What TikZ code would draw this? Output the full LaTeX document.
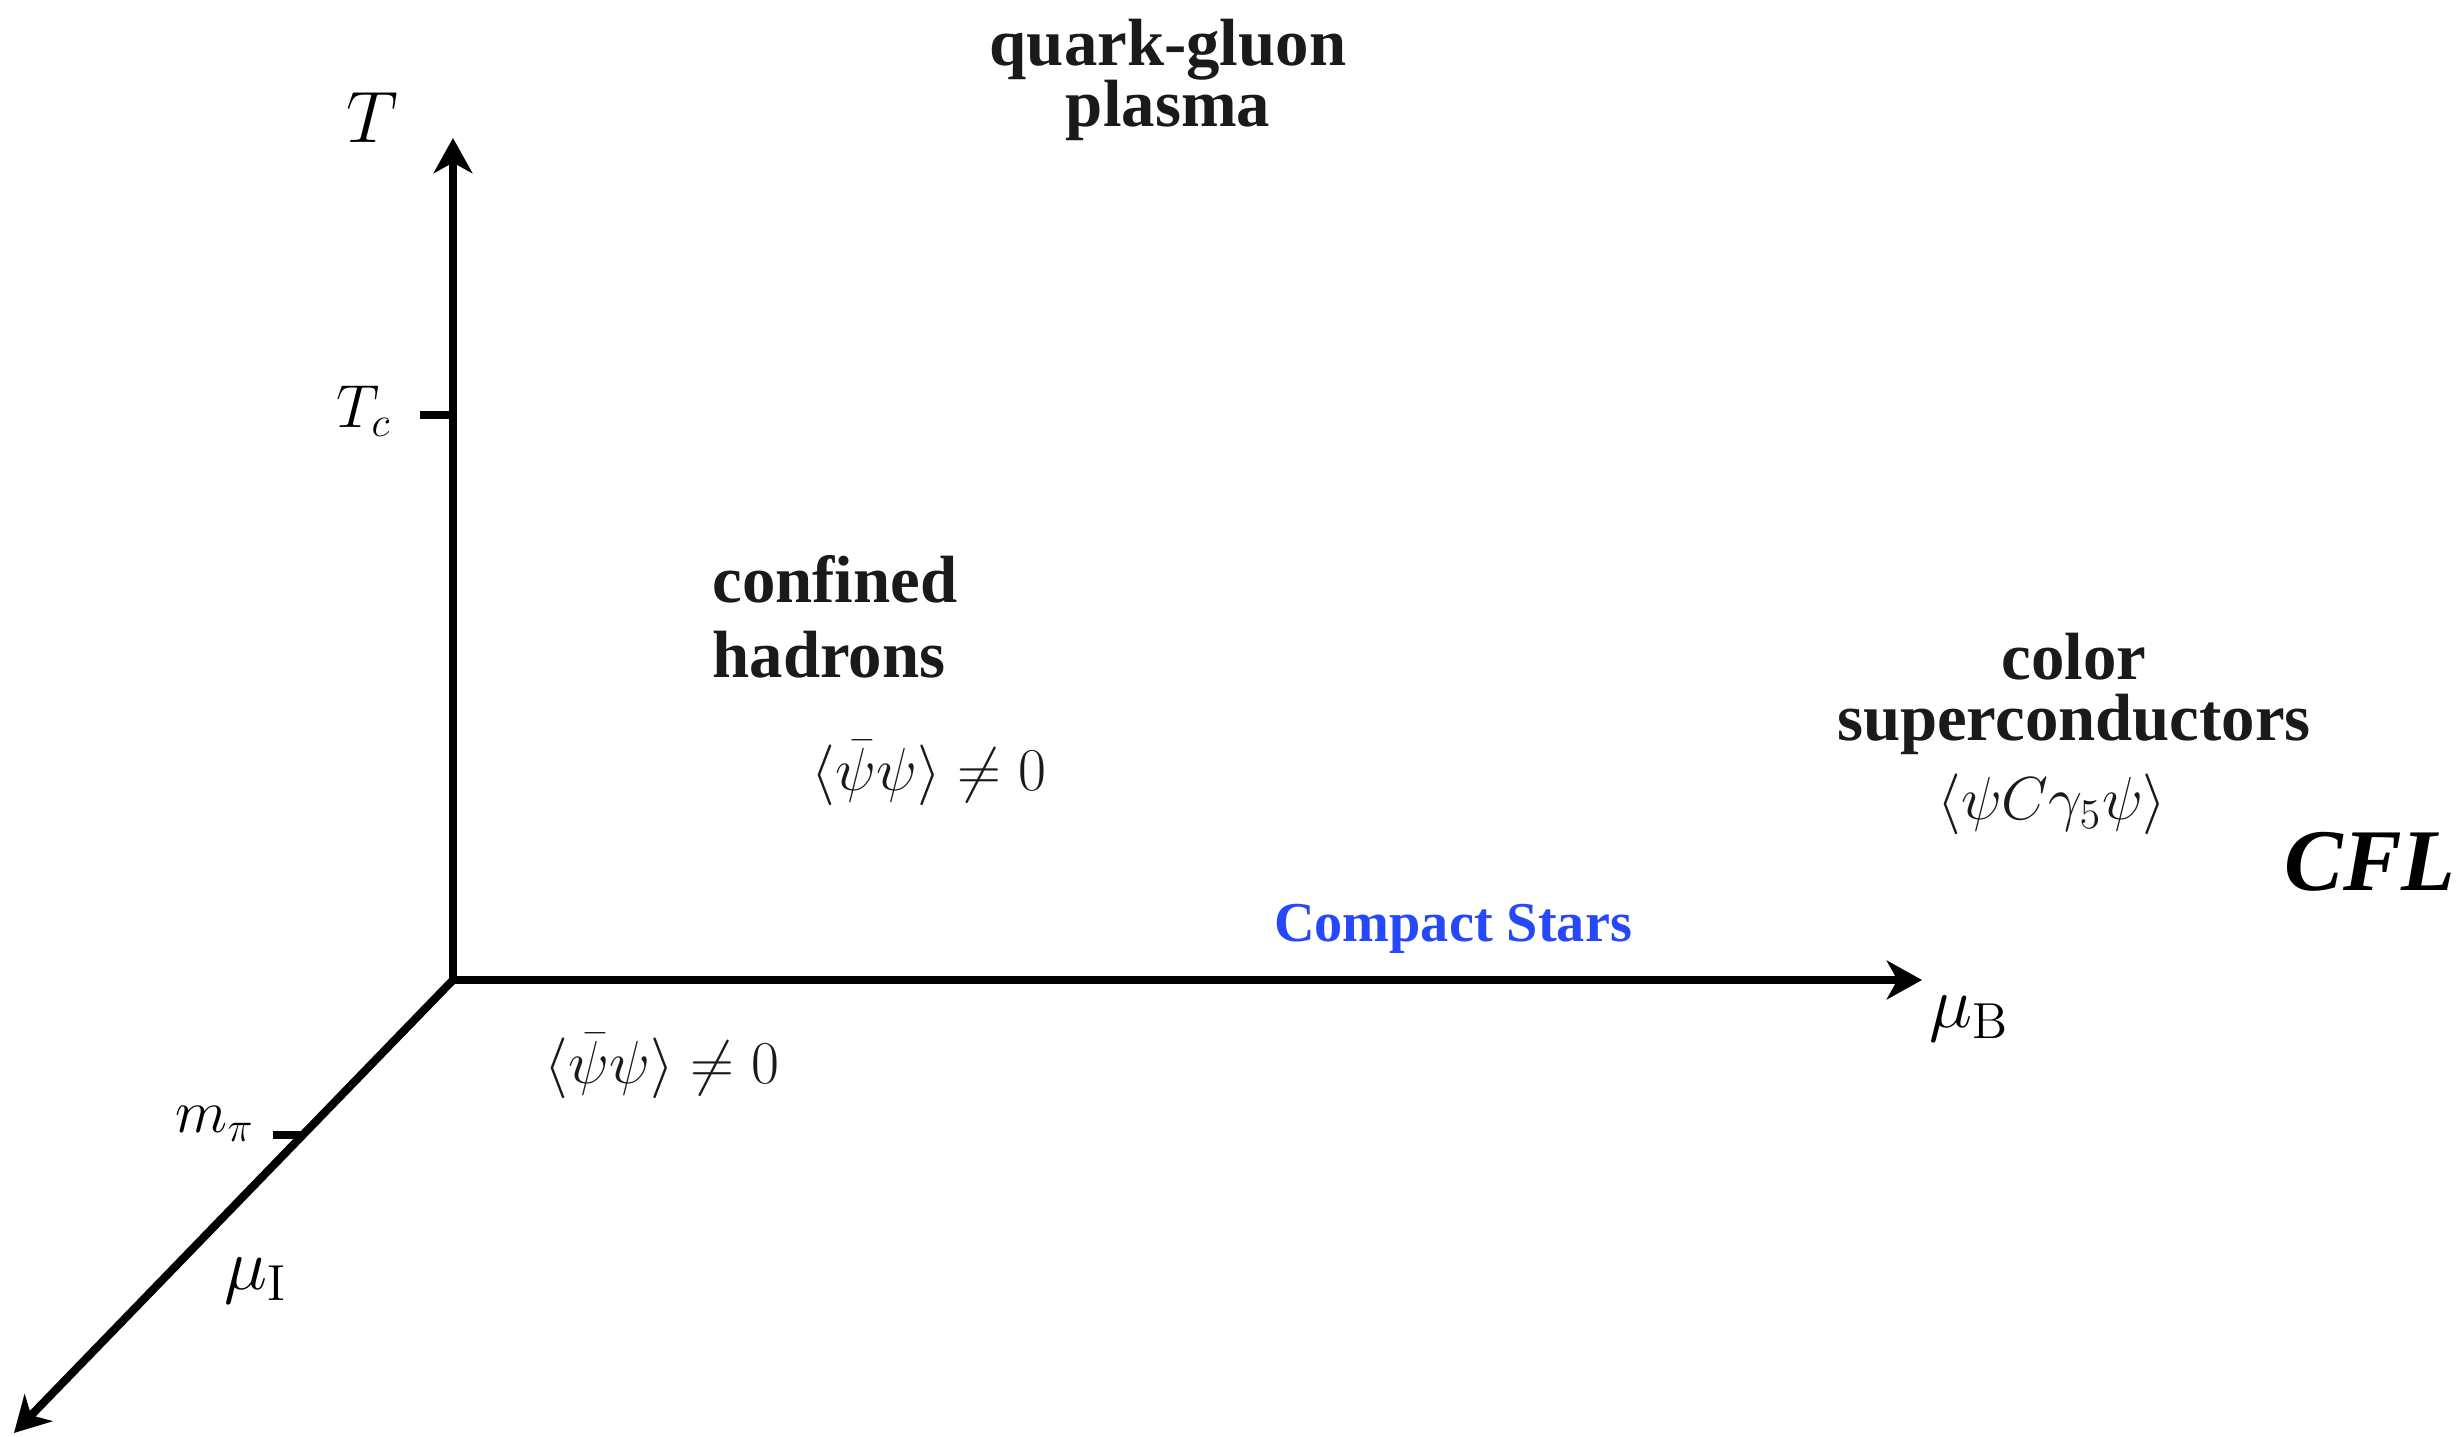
\documentclass[tikz,border=0pt]{standalone}
\usepackage[no-math]{fontspec}
\setmainfont{Liberation Serif}
\usetikzlibrary{arrows.meta}
\definecolor{txt}{RGB}{26,26,26}
\definecolor{starblue}{RGB}{38,72,250}
\begin{document}
\begin{tikzpicture}[x=0.01cm,y=-0.01cm,
  axis/.style={line width=2.3pt,-{Stealth[length=10pt,width=11pt,inset=3pt]}},
  tickline/.style={line width=2.3pt},
  phase/.style={font=\fontsize{19}{17.5}\selectfont\bfseries,text=txt,inner sep=0pt},
  mathlbl/.style={font=\fontsize{16.5}{20}\selectfont,text=txt,inner sep=0pt},
  axlbl/.style={font=\fontsize{22}{26}\selectfont,inner sep=0pt},
  ticklbl/.style={font=\fontsize{18}{22}\selectfont,inner sep=0pt}]
\useasboundingbox (0,0) rectangle (2459,1437);
% axes
\coordinate (O) at (453,980);
\coordinate (Ttop) at (453,138);
\coordinate (muBend) at (1922,980);
\coordinate (muIend) at (14,1433);
\coordinate (tcL) at (420,415);
\coordinate (tcR) at (453,415);
\coordinate (mpL) at (273,1135);
\coordinate (mpR) at (305,1135);
\draw[axis] (O) -- (Ttop);
\draw[axis] (O) -- (muBend);
\draw[axis] (O) -- (muIend);
\draw[tickline] (tcL) -- (tcR);
\draw[tickline] (mpL) -- (mpR);
% axis labels
\node[axlbl] (T) at (372,118) {$T$};
\node[ticklbl] (Tc) at (364,411) {$T_c$};
\node[axlbl] (muB) at (1969,1019) {$\mu_{\mathrm{B}}$};
\node[ticklbl] (mpi) at (215,1124) {$m_\pi$};
\node[axlbl] (muI) at (256,1281) {$\mu_{\mathrm{I}}$};
% phases
\node[phase,align=center] (qgp) at (1168,80) {quark-gluon\\plasma};
\node[phase,align=left,font=\fontsize{19}{21.5}\selectfont\bfseries] (conf) at (835,617) {confined\\hadrons};
\node[mathlbl] (cond1) at (929,773) {$\langle\bar\psi\psi\rangle\neq0$};
\node[mathlbl] (cond2) at (662,1066) {$\langle\bar\psi\psi\rangle\neq0$};
\node[phase,align=center] (csc) at (2074,694) {color\\superconductors};
\node[mathlbl] (cond3) at (2052,804) {$\langle\psi C\gamma_5\psi\rangle$};
\node[font=\fontsize{25}{30}\selectfont\bfseries\itshape,inner sep=0pt] (cfl) at (2370,862) {CFL};
\node[font=\fontsize{16}{20}\selectfont\bfseries,text=starblue,inner sep=0pt] (cs) at (1453,929) {Compact Stars};
\end{tikzpicture}
\end{document}
